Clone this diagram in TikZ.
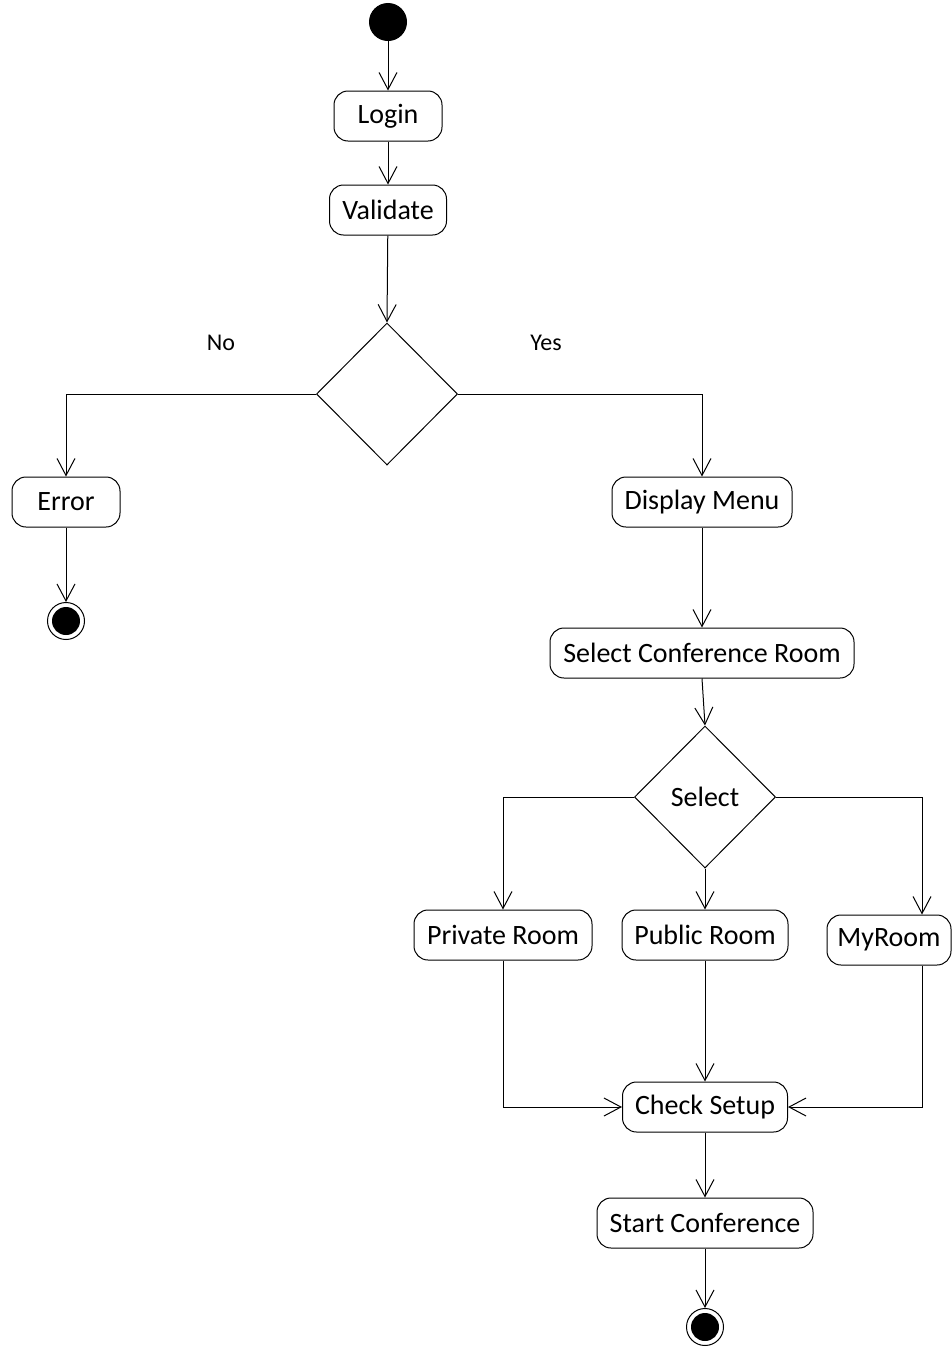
\documentclass[tikz,border=0pt]{standalone}
\usepackage{fontspec}
\setmainfont{Carlito}
\usetikzlibrary{shapes.geometric,arrows.meta}

\begin{document}
\begin{tikzpicture}[x=1pt,y=-1pt,
  line width=1pt,
  every node/.style={font=\fontsize{28}{33}\selectfont},
  action/.style={draw,rounded corners=14pt,minimum height=50pt,inner sep=0pt},
  choice/.style={draw,diamond,inner sep=0pt,minimum width=141pt,minimum height=142pt},
  initial/.style={circle,fill=black,draw,minimum size=37pt,inner sep=0pt},
  final/.style={circle,draw,line width=1pt,minimum size=37pt,inner sep=0pt,
    path picture={\fill[black] (path picture bounding box.center) circle (14pt);}},
  flow/.style={-{Straight Barb[length=17pt,width=18pt,line width=1pt]}},
  guard/.style={font=\fontsize{24}{28}\selectfont}
]
\useasboundingbox (0,0) rectangle (952,1347);

% activities
\node[initial] (start) at (388,22) {};
\node[action,minimum width=108pt] (login) at (388,116) {Login};
\node[action,minimum width=117pt] (validate) at (388,210) {Validate};
\node[choice] (check1) at (387,394) {};
\node[guard] (no) at (221,343) {No};
\node[guard] (yes) at (546,343) {Yes};
\node[action,minimum width=108pt] (error) at (66,502) {Error};
\node[final] (stop1) at (66,621) {};
\node[action,minimum width=180pt] (menu) at (702,502) {Display Menu};
\node[action,minimum width=304pt] (room) at (702,653) {Select Conference Room};
\node[choice] (sel) at (705,797) {Select};
\node[action,minimum width=178pt] (priv) at (503,935) {Private Room};
\node[action,minimum width=166pt] (pub) at (705,935) {Public Room};
\node[action,minimum width=124pt] (my) at (889,940) {MyRoom};
\node[action,minimum width=165pt] (setup) at (705,1107) {Check Setup};
\node[action,minimum width=216pt] (conf) at (705,1223) {Start Conference};
\node[final] (stop2) at (705,1327) {};

% control flow
\draw[flow] (start) -- (login);
\draw[flow] (login) -- (validate);
\draw[flow] (validate) -- (check1.north);
\draw[flow] (check1.west) -| (error.north);
\draw[flow] (check1.east) -| (menu.north);
\draw[flow] (error) -- (stop1);
\draw[flow] (menu) -- (room);
\draw[flow] (room.south) -- (sel.north);
\draw[flow] (sel.west) -| (priv.north);
\draw[flow] (sel.south) -- (pub.north);
\draw[flow] (sel.east) -| ([xshift=33pt]my.north);
\draw[flow] (priv.south) |- (setup.west);
\draw[flow] (pub.south) -- (setup.north);
\draw[flow] ([xshift=33pt]my.south) |- (setup.east);
\draw[flow] (setup) -- (conf);
\draw[flow] (conf) -- (stop2);
\end{tikzpicture}
\end{document}
